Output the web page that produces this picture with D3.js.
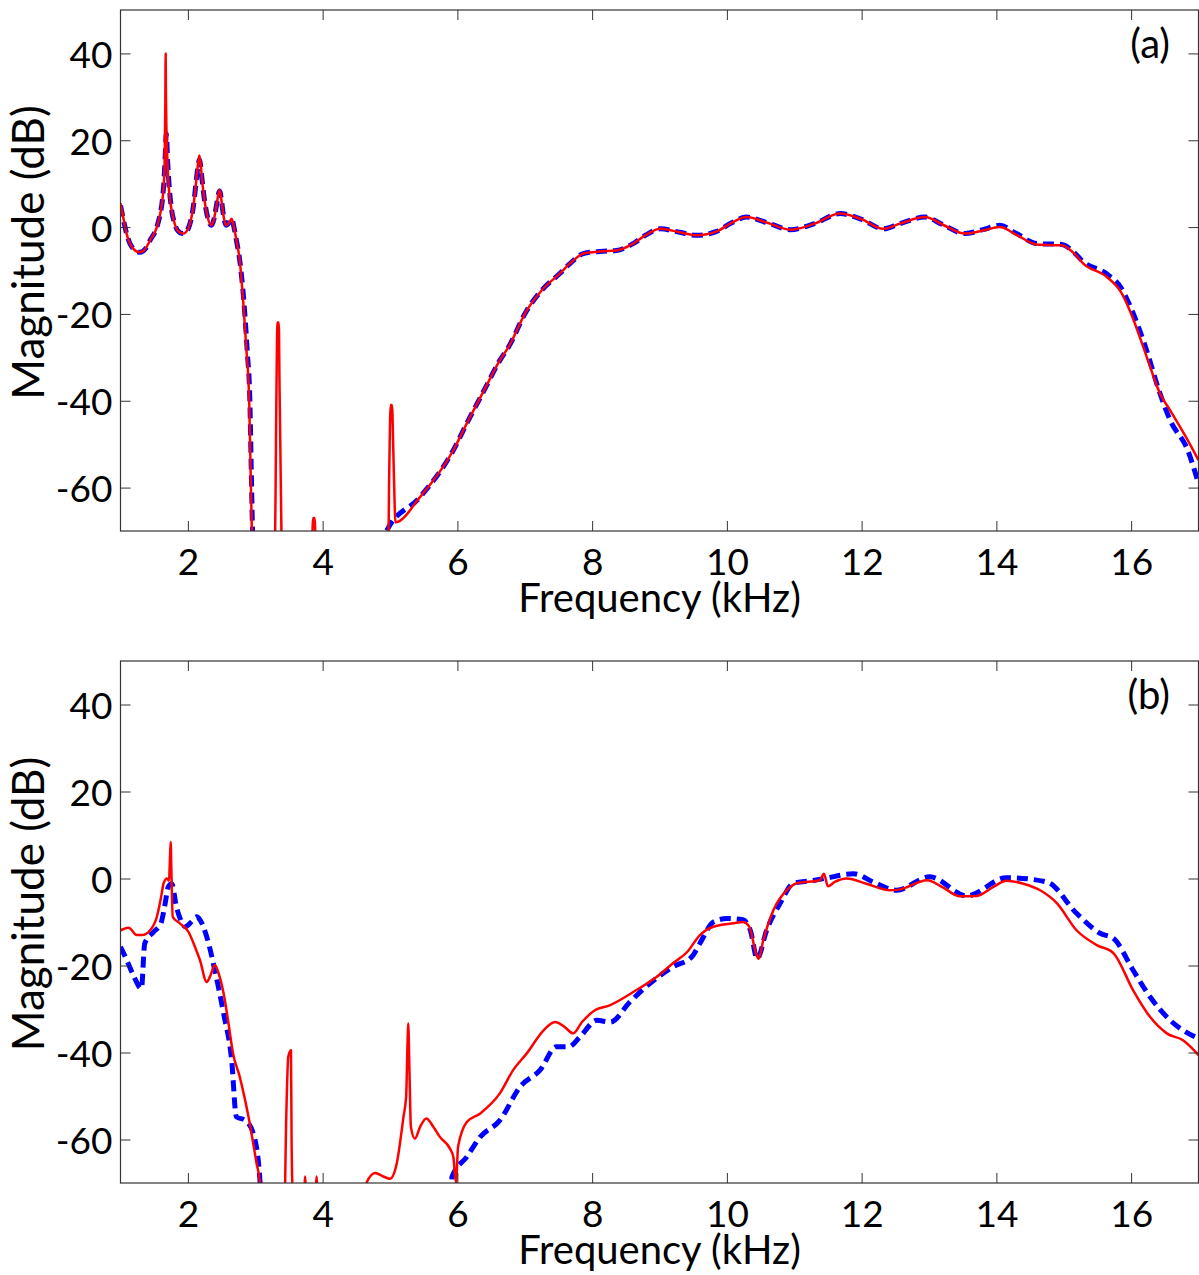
<!DOCTYPE html>
<html>
<head>
<meta charset="utf-8">
<script src="https://cdn.jsdelivr.net/npm/d3@7/dist/d3.min.js"></script>
<style>
    body { margin: 0; background: #fff; }
    svg text { font-family: Lato, "Open Sans", sans-serif; fill: #000; }
</style>
</head>
<body>
<svg id="chart" width="1199" height="1275"></svg>
<script>
// axis setup
const xDomain = [1, 17];
const yDomain = [-70, 50];
const xTicks = [2, 4, 6, 8, 10, 12, 14, 16];
const yTicks = [-60, -40, -20, 0, 20, 40];
const panelLabels = ["(a)", "(b)"];
const xTitle = "Frequency (kHz)";
const yTitle = "Magnitude (dB)";

// panel (a) - red solid  [kHz, dB]
const redA = [
    [1.0, 5.5], [1.05, 1.5], [1.09, -1.5], [1.14, -3.8], [1.19, -5], [1.29, -5.8], [1.37, -5], [1.44, -3],
    [1.54, 0], [1.59, 3.1], [1.62, 6], [1.64, 9.2], [1.655, 15], [1.665, 28], [1.67, 40], [1.675, 30],
    [1.68, 24], [1.69, 18], [1.71, 10.8], [1.76, 3.8], [1.8, 1], [1.85, -0.8], [1.93, -1.5], [2.0, -0.5],
    [2.05, 2], [2.08, 4.6], [2.12, 10], [2.15, 14.5], [2.17, 16.5], [2.19, 14.5], [2.21, 11], [2.24, 7],
    [2.29, 2.5], [2.35, 0.4], [2.39, 2], [2.43, 5.5], [2.47, 8.6], [2.5, 6], [2.53, 2.5], [2.57, 0.4],
    [2.61, 1], [2.65, 1.9], [2.69, -0.5], [2.72, -3], [2.77, -7.7], [2.82, -16.9], [2.87, -28.4],
    [2.91, -39.9], [2.93, -55.3], [2.95, -70], [2.97, -78],
    [3.29, -78], [3.31, -45], [3.33, -22], [3.35, -22], [3.36, -36], [3.38, -60], [3.40, -78],
    [3.83, -78], [3.86, -67], [3.88, -67], [3.91, -78],
    [4.97, -78], [4.99, -55], [5.01, -41], [5.03, -41], [5.05, -52], [5.07, -64.5], [5.08, -68],
    [5.445, -62.2], [5.94, -51.4], [6.14, -45.2], [6.4, -37.5], [6.63, -30.7], [6.76, -27.6], [7.03, -19.2],
    [7.25, -14.6], [7.52, -10.7], [7.7, -8], [7.87, -6.1], [8.12, -5.6], [8.36, -5.4], [8.61, -3.8],
    [8.8, -1.8], [9.01, -0.4], [9.3, -1.2], [9.55, -1.9], [9.85, -1.0], [10.05, 0.8], [10.29, 2.3],
    [10.6, 1.0], [10.94, -0.6], [11.3, 0.8], [11.68, 3.1], [12.0, 1.8], [12.32, -0.4], [12.57, 0.8],
    [12.94, 2.3], [13.2, 0.6], [13.53, -1.5], [13.8, -0.8], [14.05, 0], [14.3, -1.8], [14.6, -4],
    [14.97, -4.2], [15.15, -6], [15.29, -8.4], [15.64, -11.5], [15.85, -15], [15.98, -19.2], [16.18, -27.6],
    [16.3, -33], [16.43, -38.4], [16.58, -42.2], [16.8, -48], [17.0, -53.7]
];

// panel (a) - blue dashed
const blueA = [
    [1.0, 5], [1.05, 1.2], [1.09, -1.5], [1.14, -3.8], [1.19, -5], [1.29, -5.8], [1.37, -5], [1.44, -3],
    [1.54, 0], [1.59, 3.1], [1.62, 6], [1.64, 9.5], [1.66, 15], [1.68, 21.5], [1.7, 15], [1.72, 10],
    [1.76, 3.8], [1.8, 1], [1.85, -0.8], [1.93, -1.5], [2.0, -0.5], [2.05, 2], [2.08, 4.6], [2.12, 10],
    [2.15, 14], [2.17, 15.5], [2.19, 14], [2.21, 11], [2.24, 7], [2.29, 2.5], [2.35, 0.4], [2.39, 2],
    [2.43, 5.5], [2.47, 8.3], [2.5, 6], [2.53, 2.5], [2.57, 0.4], [2.61, 1], [2.65, 1.9], [2.69, -0.5],
    [2.72, -3], [2.77, -7.7], [2.83, -16.9], [2.88, -28.4], [2.92, -39.9], [2.94, -55.3], [2.96, -70],
    [2.98, -78], [4.9, -78],
    [4.95, -70], [5.445, -62.2], [5.94, -51.4], [6.14, -45.2], [6.4, -37.5], [6.63, -30.7], [6.76, -27.6],
    [7.03, -19.2], [7.25, -14.6], [7.52, -10.7], [7.7, -8], [7.87, -6.1], [8.12, -5.6], [8.36, -5.4],
    [8.61, -3.8], [8.8, -1.8], [9.01, -0.4], [9.3, -1.2], [9.55, -1.9], [9.85, -1.0], [10.05, 0.8],
    [10.29, 2.3], [10.6, 1.0], [10.94, -0.6], [11.3, 0.8], [11.68, 3.1], [12.0, 1.8], [12.32, -0.4],
    [12.57, 0.8], [12.94, 2.3], [13.2, 0.6], [13.53, -1.5], [13.8, -0.6], [14.05, 0.4], [14.3, -1.5],
    [14.6, -3.8], [14.97, -4.0], [15.15, -5.8], [15.29, -8.0], [15.64, -10.8], [15.85, -14], [15.98, -18],
    [16.2, -27], [16.43, -38.4], [16.58, -44.5], [16.84, -51.4], [17.0, -59.1]
];

// panel (b) - red solid
const redB = [
    [1.0, -11.9], [1.12, -11.3], [1.24, -13], [1.32, -13], [1.44, -11.9], [1.54, -8.8], [1.6, -4.5],
    [1.64, -1.1], [1.69, 0], [1.72, -0.5], [1.735, 5], [1.745, 8.4], [1.755, 2], [1.775, -8.8], [1.88, -10.3],
    [2.01, -12.3], [2.1, -15.5], [2.18, -18.8], [2.28, -23.8], [2.33, -22.5], [2.40, -19.9], [2.46, -22],
    [2.53, -26.4], [2.6, -33], [2.67, -40.2], [2.77, -45.6], [2.90, -54.8], [3.02, -65.5], [3.07, -70],
    [3.1, -78], [3.43, -78], [3.46, -55], [3.49, -41], [3.53, -39.5], [3.54, -61.7], [3.57, -78],
    [3.72, -78], [3.74, -68.5], [3.76, -78], [3.89, -78], [3.91, -68.5], [3.93, -78],
    [4.63, -78], [4.65, -70], [4.78, -67.7], [4.90, -68.5], [5.0, -69], [5.10, -65.5], [5.2, -54.8],
    [5.24, -50], [5.26, -38], [5.27, -33.3], [5.29, -45], [5.31, -57.1], [5.37, -59.8], [5.45, -57],
    [5.54, -55.2], [5.64, -57], [5.74, -59.4], [5.89, -62.1], [5.94, -64], [5.98, -70], [6.01, -61.7],
    [6.14, -56], [6.34, -54], [6.63, -49.4], [6.83, -44], [7.03, -40.2], [7.28, -34.9], [7.45, -33],
    [7.58, -34], [7.72, -35.6], [7.85, -33], [8.04, -30.3], [8.27, -29.1], [8.61, -26.1], [8.96, -22.6],
    [9.2, -19.5], [9.41, -16.9], [9.6, -13], [9.8, -11.1], [10.1, -10.3], [10.24, -10], [10.33, -11],
    [10.44, -17.6], [10.47, -18.5], [10.54, -14.2], [10.69, -7.3], [10.89, -2.7], [11.04, -1.1],
    [11.38, -0.4], [11.44, 1.1], [11.5, -1.8], [11.6, -0.8], [11.78, 0], [12.07, -1.2], [12.42, -2.7],
    [12.57, -2.5], [12.97, -0.4], [13.2, -2], [13.46, -4.1], [13.71, -4], [13.95, -2], [14.15, -0.5],
    [14.4, -1.2], [14.65, -2.7], [14.9, -5.7], [15.19, -11.9], [15.49, -15.3], [15.74, -17.2],
    [16.03, -25.7], [16.28, -31.8], [16.53, -35.6], [16.77, -37.2], [17.0, -40.6]
];

// panel (b) - blue dashed
const blueB = [
    [1.0, -15.7], [1.1, -19], [1.19, -22.2], [1.31, -25.3], [1.36, -14.9], [1.49, -12.3], [1.6, -10.3],
    [1.66, -6], [1.71, -1.9], [1.76, -1.2], [1.83, -6.5], [1.88, -9], [1.96, -11.1], [2.05, -10],
    [2.13, -8.8], [2.18, -9.5], [2.28, -13.4], [2.40, -21.1], [2.53, -31], [2.65, -41.8], [2.72, -54.8],
    [2.85, -55.6], [2.97, -58.6], [3.07, -69.4], [3.1, -78], [5.9, -78], [5.92, -68.6], [6.14, -64],
    [6.34, -59.4], [6.63, -55.6], [6.93, -47.9], [7.23, -44], [7.47, -38.7], [7.65, -38.7], [7.82, -36.4],
    [8.07, -32.6], [8.27, -33], [8.56, -28.4], [8.86, -24.1], [9.2, -20.3], [9.48, -18], [9.6, -14.9],
    [9.8, -10], [10.0, -9.2], [10.24, -9.5], [10.35, -12], [10.45, -18.4], [10.59, -11.9], [10.79, -5.7],
    [10.99, -1.1], [11.3, -0.4], [11.45, 0], [11.88, 1.1], [12.17, -0.8], [12.52, -2.7], [13.01, 0.4],
    [13.56, -4], [14.15, 0.2], [14.75, -0.8], [15.19, -8], [15.54, -12.6], [15.74, -13.8], [16.03, -21.1],
    [16.28, -27.2], [16.58, -32.6], [17.0, -36.8]
];

const redSeries = [redA, redB];
const blueSeries = [blueA, blueB];

const svg = d3.select("#chart");
const left = 120.5, right = 1198.5;
const tops = [10, 661], bottoms = [531, 1183];

function drawPanel(i) {
    let top = tops[i], bottom = bottoms[i];

    let x = d3.scaleLinear().domain(xDomain).range([left, right]);
    let y = d3.scaleLinear().domain(yDomain).range([bottom, top]);

    let g = svg.append("g").attr("class", "panel");

    g.append("clipPath")
        .attr("id", "clip" + i)
        .append("rect")
        .attr("x", left).attr("y", top)
        .attr("width", right - left).attr("height", bottom - top);

    let line = d3.line()
        .curve(d3.curveMonotoneX)
        .x(function(d) { return x(d[0]); })
        .y(function(d) { return y(d[1]); });

    // blue dashed first, red on top
    g.append("path")
        .datum(blueSeries[i])
        .attr("clip-path", "url(#clip" + i + ")")
        .attr("fill", "none")
        .attr("stroke", "#0000ff")
        .attr("stroke-width", 5)
        .attr("stroke-dasharray", "11,6")
        .attr("d", line);

    g.append("path")
        .datum(redSeries[i])
        .attr("clip-path", "url(#clip" + i + ")")
        .attr("fill", "none")
        .attr("stroke", "#ff0000")
        .attr("stroke-width", 2.5)
        .attr("stroke-linejoin", "round")
        .attr("d", line);

    // axes, ticks inward on all four sides
    let fmt = function(d) { return String(d); };

    let xb = g.append("g")
        .attr("transform", "translate(0," + bottom + ")")
        .call(d3.axisBottom(x).tickValues(xTicks).tickSizeInner(-10).tickSizeOuter(0).tickFormat(fmt));
    xb.selectAll("text").attr("y", 44).attr("dy", null).style("font-size", "37px");

    g.append("g")
        .attr("transform", "translate(0," + top + ")")
        .call(d3.axisTop(x).tickValues(xTicks).tickSizeInner(-10).tickSizeOuter(0).tickFormat(""));

    let yl = g.append("g")
        .attr("transform", "translate(" + left + ",0)")
        .call(d3.axisLeft(y).tickValues(yTicks).tickSizeInner(-10).tickSizeOuter(0).tickFormat(fmt));
    yl.selectAll("text").attr("x", -8).attr("dy", null).attr("y", 14).style("font-size", "37px");

    g.append("g")
        .attr("transform", "translate(" + right + ",0)")
        .call(d3.axisRight(y).tickValues(yTicks).tickSizeInner(-10).tickSizeOuter(0).tickFormat(""));

    g.selectAll(".domain").remove();
    g.selectAll(".tick line").attr("stroke", "#333");
    g.selectAll(".tick text").attr("fill", "#000").style("font-family", "Lato, sans-serif");

    g.append("rect")
        .attr("x", left).attr("y", top)
        .attr("width", right - left).attr("height", bottom - top)
        .attr("fill", "none")
        .attr("stroke", "#333")
        .attr("stroke-width", 1.2);

    // titles
    g.append("text")
        .attr("x", (left + right) / 2)
        .attr("y", bottom + 81)
        .attr("text-anchor", "middle")
        .style("font-size", "40px")
        .text(xTitle);

    g.append("text")
        .attr("transform", "translate(44," + ((top + bottom) / 2 - 18) + ") rotate(-90)")
        .attr("text-anchor", "middle")
        .style("font-size", "44px")
        .text(yTitle);

    g.append("text")
        .attr("x", 1170)
        .attr("y", top + 48)
        .attr("text-anchor", "end")
        .style("font-size", "40px")
        .text(panelLabels[i]);
}

drawPanel(0);
drawPanel(1);
</script>
</body>
</html>
